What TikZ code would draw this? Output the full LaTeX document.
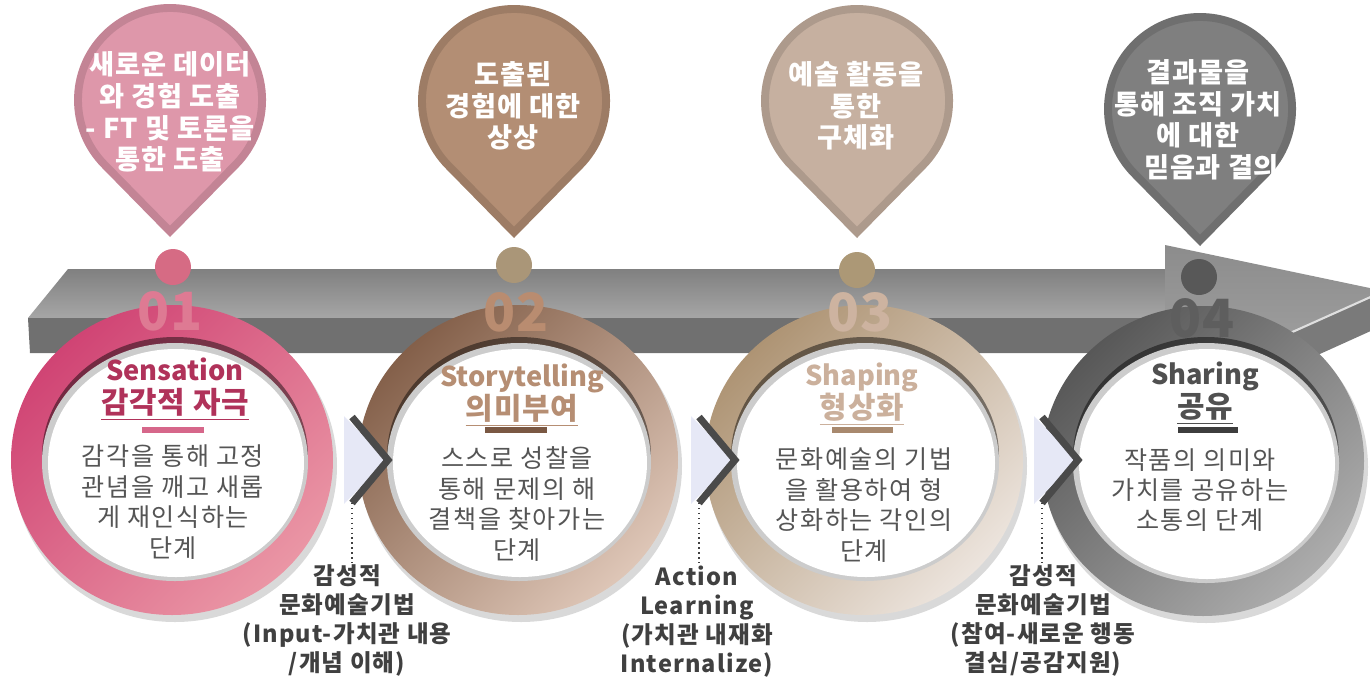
\documentclass[tikz,border=0pt]{standalone}
\usepackage{fontspec}
\setmainfont{Noto Sans CJK KR}
\definecolor{pinone}{RGB}{222,151,170}
\definecolor{pintwo}{RGB}{179,142,116}
\definecolor{pinthree}{RGB}{198,176,160}
\definecolor{pinfour}{RGB}{127,127,127}
\definecolor{dotone}{RGB}{214,107,132}
\definecolor{dottwo}{RGB}{170,150,120}
\definecolor{dotthree}{RGB}{172,152,118}
\definecolor{dotfour}{RGB}{88,88,88}
\definecolor{ringonetop}{RGB}{208,68,116}
\definecolor{ringonebot}{RGB}{234,150,165}
\definecolor{ringtwotop}{RGB}{132,96,74}
\definecolor{ringtwobot}{RGB}{222,198,183}
\definecolor{ringthreetop}{RGB}{174,148,116}
\definecolor{ringthreebot}{RGB}{236,228,221}
\definecolor{ringfourtop}{RGB}{88,88,88}
\definecolor{ringfourbot}{RGB}{172,172,172}
\definecolor{titleone}{RGB}{176,50,90}
\definecolor{titletwo}{RGB}{182,142,115}
\definecolor{titlethree}{RGB}{203,176,156}
\definecolor{titlefour}{RGB}{80,80,80}
\definecolor{barone}{RGB}{214,103,138}
\definecolor{bartwo}{RGB}{122,88,67}
\definecolor{barthree}{RGB}{168,137,110}
\definecolor{barfour}{RGB}{61,61,61}
\definecolor{numone}{RGB}{222,122,147}
\definecolor{numtwo}{RGB}{185,140,112}
\definecolor{numthree}{RGB}{205,179,160}
\definecolor{numfour}{RGB}{94,94,94}
\definecolor{bodygray}{RGB}{85,85,85}
\definecolor{labelgray}{RGB}{64,64,64}
\definecolor{chevfill}{RGB}{230,232,246}
\definecolor{chevline}{RGB}{74,74,74}
\definecolor{bandtop}{RGB}{128,128,128}
\definecolor{bandlight}{RGB}{166,166,166}
\definecolor{bandfront}{RGB}{112,112,112}
\definecolor{headtop}{RGB}{140,140,140}
\definecolor{headlight}{RGB}{165,165,165}
\definecolor{headfront}{RGB}{122,122,122}

\begin{document}
\begin{tikzpicture}[x=0.02cm, y=-0.02cm]
            \tikzstyle{pinlabel} = [text=white, align=center, font=\fontsize{15.5}{18}\selectfont\bfseries\addfontfeature{LetterSpace=3}]
            \tikzstyle{ringtitle} = [align=center, font=\fontsize{15.5}{18.7}\selectfont\bfseries]
            \tikzstyle{ringbody} = [align=center, text=bodygray, font=\fontsize{14.3}{17.3}\selectfont\addfontfeature{LetterSpace=6}]
            \tikzstyle{numlabel} = [font=\fontsize{30}{30}\selectfont\bfseries]
            \tikzstyle{techlabel} = [align=center, anchor=north, inner sep=0pt, text=labelgray, font=\fontsize{13.4}{16.5}\selectfont\bfseries\addfontfeature{LetterSpace=5}]
            \tikzstyle{ringshadow} = [fill=black, opacity=0.15]
            \tikzstyle{discshadow} = [fill=black, opacity=0.45]
            \tikzstyle{pinrim} = [black, opacity=0.12, line width=9pt]
            \tikzstyle{chevstroke} = [chevline, line width=4pt]
            \tikzstyle{dotline} = [labelgray, dotted, line width=0.8pt]

            \useasboundingbox (0,0) rectangle (1370,680);
            \clip (0,0) rectangle (1370,680);

            % gray band with arrow head
            \shade[top color=bandtop, bottom color=bandlight] (68,269) -- (1166,269) -- (1166,318) -- (28,318) -- cycle;
            \fill[bandfront] (28,318) -- (1166,318) -- (1166,353) -- (30,353) -- cycle;
            \shade[top color=headtop, bottom color=headlight] (1165,245) -- (1384,291) -- (1165,389) -- cycle;
            \fill[headfront] (1384,291) -- (1384,325) -- (1165,424) -- (1165,389) -- cycle;
            \draw[white!75!gray, line width=1.2pt] (1165,389) -- (1384,291);

            % rings
            \fill[ringshadow] (175,466) ellipse (162 and 156);
            \shade[top color=ringonetop, bottom color=ringonebot, shading angle=45] (172,460) ellipse (161 and 155);
            \fill[discshadow] (175,456) ellipse (133 and 119);
            \fill[gray!40] (175,462) ellipse (133 and 119);
            \fill[white] (176,463) ellipse (128 and 114);

            \fill[ringshadow] (521,466) ellipse (161 and 156);
            \shade[top color=ringtwotop, bottom color=ringtwobot, shading angle=45] (518,460) ellipse (160 and 155);
            \fill[discshadow] (519,456) ellipse (132 and 119);
            \fill[gray!40] (519,462) ellipse (132 and 119);
            \fill[white] (520,463) ellipse (127 and 114);

            \fill[ringshadow] (867,466) ellipse (160 and 156);
            \shade[top color=ringthreetop, bottom color=ringthreebot, shading angle=45] (864,460) ellipse (159 and 155);
            \fill[discshadow] (865,456) ellipse (134 and 119);
            \fill[gray!40] (865,462) ellipse (134 and 119);
            \fill[white] (866,463) ellipse (129 and 114);

            \fill[ringshadow] (1206,467) ellipse (162 and 156);
            \shade[top color=ringfourtop, bottom color=ringfourbot, shading angle=45] (1203,461) ellipse (161 and 155);
            \fill[discshadow] (1206,457) ellipse (133 and 120);
            \fill[gray!40] (1206,463) ellipse (133 and 120);
            \fill[white] (1207,464) ellipse (128 and 115);

            % chevrons between the rings
            \coordinate (chevonetop) at (352,417);
            \coordinate (chevonetip) at (388,460);
            \coordinate (chevonebot) at (352,503);
            \fill[chevfill] (344,416) -- (387,460) -- (344,504) -- cycle;
            \draw[chevstroke] (chevonetop) -- (chevonetip) -- (chevonebot);

            \coordinate (chevtwotop) at (699,417);
            \coordinate (chevtwotip) at (735,460);
            \coordinate (chevtwobot) at (699,503);
            \fill[chevfill] (691,416) -- (734,460) -- (691,504) -- cycle;
            \draw[chevstroke] (chevtwotop) -- (chevtwotip) -- (chevtwobot);

            \coordinate (chevthreetop) at (1042,417);
            \coordinate (chevthreetip) at (1078,460);
            \coordinate (chevthreebot) at (1042,503);
            \fill[chevfill] (1034,416) -- (1077,460) -- (1034,504) -- cycle;
            \draw[chevstroke] (chevthreetop) -- (chevthreetip) -- (chevthreebot);

            % dots and numbers
            \fill[dotone] (173,267) circle (18);
            \fill[dottwo] (514,265) circle (18);
            \fill[dotthree] (857,270) circle (18);
            \fill[dotfour] (1199,277) circle (18);
            \node[numlabel, text=numone] (numberone) at (170,311) {01};
            \node[numlabel, text=numtwo] (numbertwo) at (516,312) {02};
            \node[numlabel, text=numthree] (numberthree) at (860,312) {03};
            \node[numlabel, text=numfour] (numberfour) at (1202,318) {04};

            % pins, with a soft darker rim inside
            \path[save path=\pinonepath] (170,237) -- (238.5,167.3) arc[start angle=44.5, end angle=-224.5, radius=96] -- cycle;
            \path[save path=\pintwopath] (514,238) -- (582.5,168.3) arc[start angle=44.5, end angle=-224.5, radius=96] -- cycle;
            \path[save path=\pinthreepath] (857,238) -- (925.5,168.3) arc[start angle=44.5, end angle=-224.5, radius=96] -- cycle;
            \path[save path=\pinfourpath] (1200,246) -- (1268.5,176.3) arc[start angle=44.5, end angle=-224.5, radius=96] -- cycle;
            \fill[pinone, use path=\pinonepath];
            \fill[pintwo, use path=\pintwopath];
            \fill[pinthree, use path=\pinthreepath];
            \fill[pinfour, use path=\pinfourpath];
            \begin{scope}
                \clip[use path=\pinonepath];
                \draw[pinrim, use path=\pinonepath];
            \end{scope}
            \begin{scope}
                \clip[use path=\pintwopath];
                \draw[pinrim, use path=\pintwopath];
            \end{scope}
            \begin{scope}
                \clip[use path=\pinthreepath];
                \draw[pinrim, use path=\pinthreepath];
            \end{scope}
            \begin{scope}
                \clip[use path=\pinfourpath];
                \draw[pinrim, use path=\pinfourpath];
            \end{scope}
            \node[pinlabel] (pinone) at (170,112) {새로운 데이터\\와 경험 도출\\- FT 및 토론을\\통한 도출};
            \node[pinlabel] (pintwo) at (513,106) {도출된\\경험에 대한\\상상};
            \node[pinlabel] (pinthree) at (856,106) {예술 활동을\\통한\\구체화};
            \node[pinlabel] (pinfour) at (1198,120) {결과물을\\통해 조직 가치\\에 대한\\\hspace*{1em}믿음과 결의};

            % ring texts
            \node[ringtitle, text=titleone] (titleone) at (175,389) {Sensation\\{\fontsize{17}{18.7}\selectfont\addfontfeature{LetterSpace=3}\underline{감각적 자극}}};
            \fill[barone] (142,427) rectangle (204,433);
            \node[ringbody] (bodyone) at (173,502) {감각을 통해 고정\\관념을 깨고 새롭\\게 재인식하는\\단계};

            \node[ringtitle, text=titletwo] (titletwo) at (522,395) {Storytelling\\{\fontsize{17}{18.7}\selectfont\addfontfeature{LetterSpace=3}\underline{의미부여}}};
            \fill[bartwo] (485,427) rectangle (547,433);
            \node[ringbody] (bodytwo) at (517,504) {스스로 성찰을\\통해 문제의 해\\결책을 찾아가는\\단계};

            \node[ringtitle, text=titlethree] (titlethree) at (862,394) {Shaping\\{\fontsize{17}{18.7}\selectfont\addfontfeature{LetterSpace=3}\underline{형상화}}};
            \fill[barthree] (832,427) rectangle (893,433);
            \node[ringbody] (bodythree) at (864,505) {문화예술의 기법\\을 활용하여 형\\상화하는 각인의\\단계};

            \node[ringtitle, text=titlefour] (titlefour) at (1205,393) {Sharing\\{\fontsize{17}{18.7}\selectfont\addfontfeature{LetterSpace=3}\underline{공유}}};
            \fill[barfour] (1178,427) rectangle (1238,433);
            \node[ringbody] (bodyfour) at (1200,490) {작품의 의미와\\가치를 공유하는\\소통의 단계};

            % technique labels below
            \node[techlabel] (labone) at (347,564) {감성적\\문화예술기법\\(Input-가치관 내용\\/개념 이해)};
            \node[techlabel] (labtwo) at (697,566) {Action\\Learning\\(가치관 내재화\\Internalize)};
            \node[techlabel] (labthree) at (1043,564) {감성적\\문화예술기법\\(참여-새로운 행동\\결심/공감지원)};
            \draw[dotline] (chevonebot) -- (chevonebot |- labone.north);
            \draw[dotline] (chevtwobot) -- (chevtwobot |- labtwo.north);
            \draw[dotline] (chevthreebot) -- (chevthreebot |- labthree.north);
        \end{tikzpicture}
\end{document}
